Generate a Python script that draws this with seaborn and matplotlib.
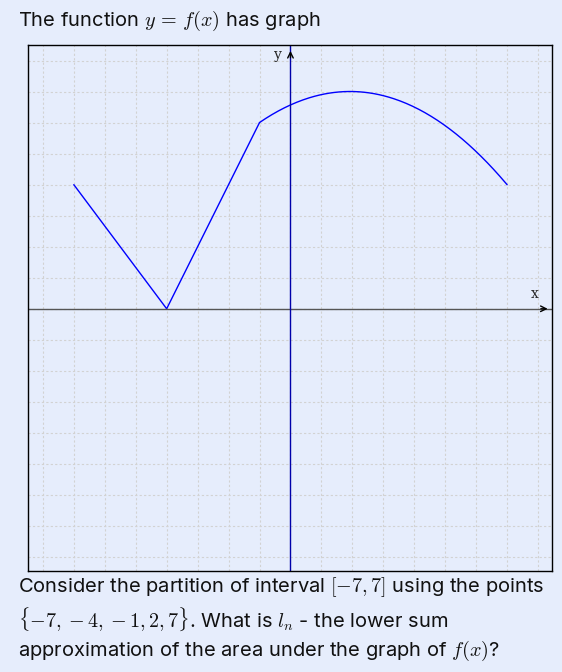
import numpy as np
import matplotlib.pyplot as plt
import seaborn as sns

sns.set_style("white")
plt.rcParams['font.family'] = ['Inter', 'DejaVu Sans']
plt.rcParams['mathtext.fontset'] = 'cm'

# piecewise-linear part of f
line_x = [-7, -4, -1]
line_y = [4, 0, 6]
# curved part of f, read at integer x
curve_x = [-1, 0, 1, 2, 3, 4, 5, 6, 7]
curve_y = [6.0, 6.57, 6.90, 7.0, 6.87, 6.50, 5.90, 5.06, 4.0]

bg = '#e6edfc'
fig = plt.figure(figsize=(5.62, 6.72), dpi=100, facecolor=bg)
ax = fig.add_axes([28/562, 101/672, 524/562, 526/672])
ax.set_facecolor(bg)

# smooth the curved piece with a quadratic through the read points
coef = np.polyfit(curve_x, curve_y, 2)
xs = np.linspace(curve_x[0], curve_x[-1], 200)
sns.lineplot(x=line_x, y=line_y, ax=ax, color='blue', lw=1, sort=False)
sns.lineplot(x=xs, y=np.polyval(coef, xs), ax=ax, color='blue', lw=1, sort=False)

ax.set_xlim(-8.48, 8.45)
ax.set_ylim(-8.45, 8.5)
ax.set_xticks(np.arange(-8, 9))
ax.set_yticks(np.arange(-8, 9))
ax.tick_params(length=0, labelbottom=False, labelleft=False)
ax.grid(True, color='#d2d2d2', ls=(0, (2, 2)), lw=0.8)
for s in ax.spines.values():
    s.set_color('black')
    s.set_linewidth(1)

ax.axhline(0, color='#555555', lw=1)
ax.axvline(0, color='#0000aa', lw=1)
ax.annotate('', xy=(8.4, 0), xytext=(8.0, 0),
            arrowprops=dict(arrowstyle='->', color='black', lw=1))
ax.annotate('', xy=(0, 8.4), xytext=(0, 8.0),
            arrowprops=dict(arrowstyle='->', color='black', lw=1))
ax.text(7.9, 0.35, 'x', family='DejaVu Serif', fontsize=10, ha='center')
ax.text(-0.4, 8.05, 'y', family='DejaVu Serif', fontsize=10, ha='center')

tc = '#111111'
fig.text(18/562, 1 - 21/672, r'The function $y\,=\,f(x)$ has graph',
         fontsize=14.5, va='center', color=tc)
fig.text(18/562, 1 - 587/672,
         r'Consider the partition of interval $[-7,7]$ using the points',
         fontsize=14.5, va='center', color=tc)
fig.text(18/562, 1 - 619/672,
         r'$\{-7,-4,-1,2,7\}$. What is $l_n$ - the lower sum',
         fontsize=14.5, va='center', color=tc)
fig.text(18/562, 1 - 651/672,
         r'approximation of the area under the graph of $f(x)$?',
         fontsize=14.5, va='center', color=tc)

fig.savefig('out.png', dpi=100, facecolor=bg)
